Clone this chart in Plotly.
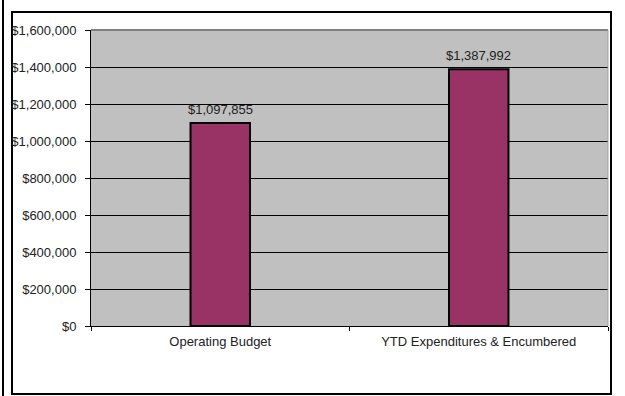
import plotly.graph_objects as go

categories = ["Operating Budget", "YTD Expenditures & Encumbered"]
values = [1097855, 1387992]
y_ticks = [0, 200000, 400000, 600000, 800000, 1000000, 1200000, 1400000, 1600000]

W, H = 625, 396
L, R, T, B = 91, 608, 30, 326  # plot area in pixels

def px(x):
    return (x - L) / (R - L)

def py(y):
    return (B - y) / (B - T)

font = dict(family="Liberation Sans, Arial, sans-serif", size=13, color="#222222")

fig = go.Figure(
    go.Bar(
        x=categories,
        y=values,
        width=0.23,
        marker=dict(color="#993366", line=dict(color="#000000", width=2)),
    )
)

for c, v in zip(categories, values):
    fig.add_annotation(
        x=c, y=v, text=f"${v:,.0f}", showarrow=False,
        yanchor="bottom", yshift=4, font=font,
    )

shapes = []
# outer chart frame
shapes.append(dict(type="rect", xref="paper", yref="paper",
                   x0=px(12), x1=px(611), y0=py(394), y1=py(12),
                   line=dict(color="#000000", width=2), layer="below"))
# left extra border line
shapes.append(dict(type="line", xref="paper", yref="paper",
                   x0=px(3), x1=px(3), y0=py(396), y1=py(0),
                   line=dict(color="#000000", width=2)))
# plot area border top/right (grey)
shapes.append(dict(type="line", xref="paper", yref="paper",
                   x0=0, x1=1, y0=1, y1=1,
                   line=dict(color="#808080", width=2)))
shapes.append(dict(type="line", xref="paper", yref="paper",
                   x0=1, x1=1, y0=0, y1=1,
                   line=dict(color="#a0a0a0", width=1)))

fig.update_layout(
    width=W, height=H,
    margin=dict(l=L, r=W - R, t=T, b=H - B),
    paper_bgcolor="#ffffff",
    plot_bgcolor="#c0c0c0",
    showlegend=False,
    font=font,
    shapes=shapes,
    xaxis=dict(
        type="category",
        showline=True, linecolor="#000000", linewidth=1,
        ticks="outside", tickson="boundaries", ticklen=4, tickcolor="#000000",
        showgrid=False, tickfont=font, ticklabelstandoff=3,
    ),
    yaxis=dict(
        range=[0, 1600000], tickvals=y_ticks,
        ticktext=[f"${v:,.0f}" for v in y_ticks],
        showline=True, linecolor="#000000", linewidth=1,
        ticks="outside", ticklen=5, tickcolor="#000000",
        showgrid=True, gridcolor="#000000", gridwidth=1,
        zeroline=False, tickfont=font, ticklabelstandoff=6,
    ),
)

fig.write_html("out.html")
